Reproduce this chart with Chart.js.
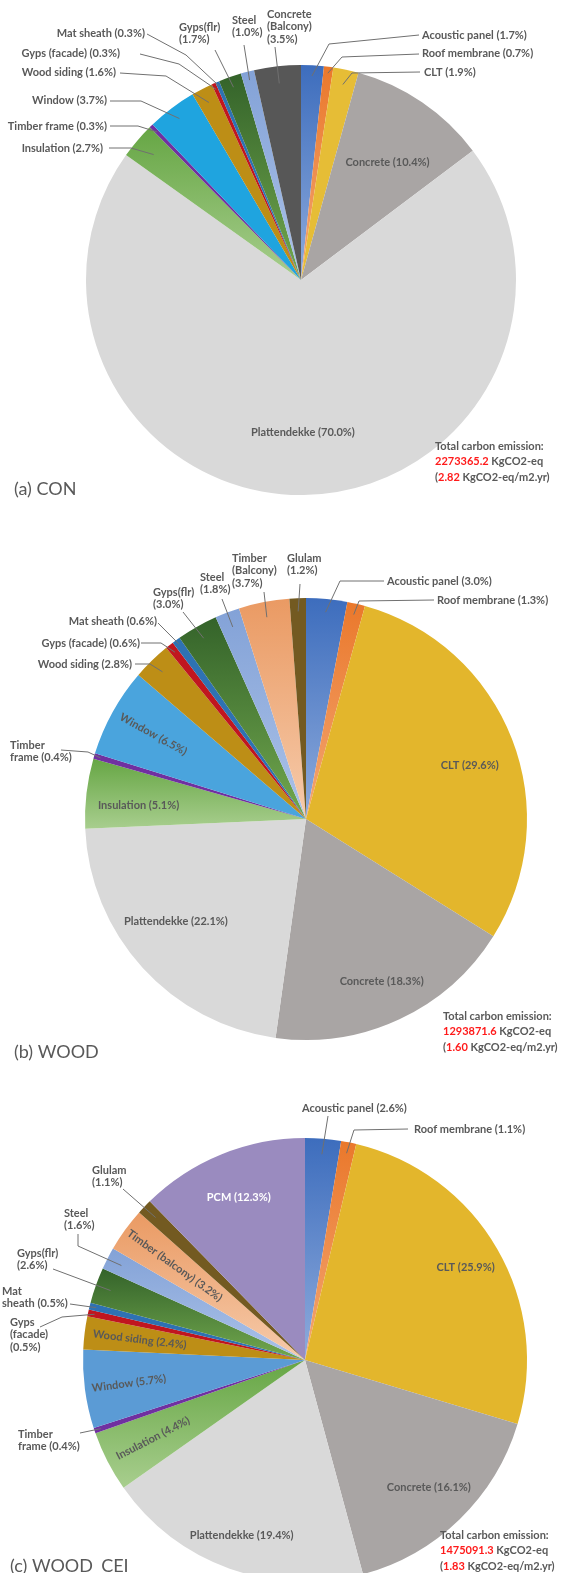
<!DOCTYPE html>
<html>
<head>
<meta charset="utf-8">
<script src="https://cdn.jsdelivr.net/npm/chart.js@4.4.1/dist/chart.umd.min.js"></script>
<style>
  html, body { margin: 0; padding: 0; background: #fff; width: 561px; height: 1573px; overflow: hidden; position: relative; }
  canvas { position: absolute; left: 0; }
</style>
</head>
<body>
<canvas id="pieCon" width="561" height="530" style="top:0px"></canvas>
<canvas id="pieWood" width="561" height="540" style="top:530px"></canvas>
<canvas id="pieCei" width="561" height="530" style="top:1070px"></canvas>
<script>
// Embodied carbon share per material (%), clockwise from 12 o'clock
const conMaterials = ['Acoustic panel', 'Roof membrane', 'CLT', 'Concrete', 'Plattendekke', 'Insulation',
  'Timber frame', 'Window', 'Wood siding', 'Gyps (facade)', 'Mat sheath', 'Gyps(flr)', 'Steel', 'Concrete (Balcony)'];
const conShares = [1.7, 0.7, 1.9, 10.4, 70.0, 2.7, 0.3, 3.7, 1.6, 0.3, 0.3, 1.7, 1.0, 3.5];

const woodMaterials = ['Acoustic panel', 'Roof membrane', 'CLT', 'Concrete', 'Plattendekke', 'Insulation',
  'Timber frame', 'Window', 'Wood siding', 'Gyps (facade)', 'Mat sheath', 'Gyps(flr)', 'Steel', 'Timber (Balcony)', 'Glulam'];
const woodShares = [3.0, 1.3, 29.6, 18.3, 22.1, 5.1, 0.4, 6.5, 2.8, 0.6, 0.6, 3.0, 1.8, 3.7, 1.2];

const ceiMaterials = ['Acoustic panel', 'Roof membrane', 'CLT', 'Concrete', 'Plattendekke', 'Insulation',
  'Timber frame', 'Window', 'Wood siding', 'Gyps (facade)', 'Mat sheath', 'Gyps(flr)', 'Steel', 'Timber (balcony)', 'Glulam', 'PCM'];
const ceiShares = [2.6, 1.1, 25.9, 16.1, 19.4, 4.4, 0.4, 5.7, 2.4, 0.5, 0.5, 2.6, 1.6, 3.2, 1.1, 12.3];

// Whole-building totals
const panelTitles = ['(a) CON', '(b) WOOD', '(c) WOOD_CEI'];
const totalEmission = ['2273365.2', '1293871.6', '1475091.3'];        // KgCO2-eq
const emissionIntensity = ['2.82', '1.60', '1.83'];                  // KgCO2-eq/m2.yr

// ---- styling ----
const TEXT = '#595959';
const LEADER = '#707070';
const RED = '#ff1a1a';
const LABEL_FONT = 'bold 11px Lato, "Open Sans", sans-serif';
const TITLE_FONT = '18px Lato, "Open Sans", sans-serif';
const LINE_H = 12.8;

// [top colour, bottom colour] of each slice's vertical shading
const materialColors = {
  'Acoustic panel': ['#3d6dbd', '#8eabdc'],
  'Roof membrane': ['#ea782b', '#f3a673'],
  'CLT': ['#e3b62c'],
  'Concrete': ['#a9a5a4'],
  'Plattendekke': ['#d9d9d9'],
  'Insulation': ['#66a644', '#a8ce8e'],
  'Timber frame': ['#7030a0'],
  'Window': ['#4aa4dd'],
  'Wood siding': ['#bd8e16'],
  'Gyps (facade)': ['#c0161f'],
  'Mat sheath': ['#2e72b3'],
  'Gyps(flr)': ['#34632a', '#72a84e'],
  'Steel': ['#83a2d7', '#abc2e8'],
  'Concrete (Balcony)': ['#575757'],
  'Timber (Balcony)': ['#ea9a63', '#f6cbab'],
  'Timber (balcony)': ['#ea9a63', '#f6cbab'],
  'Glulam': ['#735a21'],
  'PCM': ['#9a8bbf']
};

// Vertical gradient spanning each sector's own bounding box
function sliceFill(tops, bottoms) {
  return (ctx) => {
    const i = ctx.dataIndex;
    const top = tops[i], bot = bottoms[i];
    if (top === bot) return top;
    const chart = ctx.chart, area = chart.chartArea;
    const ctrl = chart.getDatasetMeta(ctx.datasetIndex).controller;
    const r = ctrl && ctrl.outerRadius;
    if (!area || !r) return top;
    const cy = (area.top + area.bottom) / 2;
    const data = ctx.dataset.data;
    const total = data.reduce((s, v) => s + v, 0);
    let before = 0;
    for (let k = 0; k < i; k++) before += data[k];
    const a0 = -Math.PI / 2 + 2 * Math.PI * before / total;
    const a1 = a0 + 2 * Math.PI * data[i] / total;
    let yMin = Math.min(cy, cy + r * Math.sin(a0), cy + r * Math.sin(a1));
    let yMax = Math.max(cy, cy + r * Math.sin(a0), cy + r * Math.sin(a1));
    const has = (a) => { for (let t = a; t <= a1 + 1e-9; t += 2 * Math.PI) if (t >= a0) return true; return false; };
    if (has(-Math.PI / 2) || has(3 * Math.PI / 2)) yMin = cy - r;
    if (has(Math.PI / 2)) yMax = cy + r;
    const g = chart.ctx.createLinearGradient(0, yMin, 0, yMax);
    g.addColorStop(0, top);
    g.addColorStop(1, bot);
    return g;
  };
}

// Slice labels, leader lines, totals and panel title
function makeLabelPlugin(spec) {
  return {
    id: 'sliceLabels',
    afterDatasetsDraw(chart) {
      const g = chart.ctx;
      const oy = spec.top;
      const meta = chart.getDatasetMeta(0);
      g.save();
      g.font = LABEL_FONT;
      g.textBaseline = 'middle';
      meta.data.forEach((arc, i) => {
        const L = spec.layout[i];
        const p = arc.getProps(['x', 'y', 'startAngle', 'endAngle', 'outerRadius'], true);
        const mid = (p.startAngle + p.endAngle) / 2 + (L.da || 0) * Math.PI / 180;
        const ax = p.x + Math.cos(mid) * p.outerRadius * L.f;
        const ay = p.y + Math.sin(mid) * p.outerRadius * L.f;
        const text = spec.names[i] + ' (' + spec.shares[i].toFixed(1) + '%)';
        if (L.inside) {
          g.save();
          g.translate(ax, ay);
          if (L.rotate) g.rotate(mid - Math.PI);
          g.textAlign = 'center';
          g.fillStyle = L.color || TEXT;
          g.fillText(text, 0, 0);
          g.restore();
          return;
        }
        g.beginPath();
        g.strokeStyle = LEADER;
        g.lineWidth = 1;
        L.path.forEach((pt, k) => k ? g.lineTo(pt[0], pt[1] - oy) : g.moveTo(pt[0], pt[1] - oy));
        g.lineTo(ax, ay);
        g.stroke();
        const words = text.split(' ');
        const wrap = L.wrap || [words.length];
        let w0 = 0;
        g.textAlign = L.align;
        g.fillStyle = TEXT;
        wrap.forEach((n, li) => {
          g.fillText(words.slice(w0, w0 + n).join(' '), L.x, L.y - oy + li * LINE_H);
          w0 += n;
        });
      });

      // totals block
      const t = spec.totals;
      g.textAlign = 'left';
      const seg = (parts, x, y) => {
        parts.forEach(([s, c]) => { g.fillStyle = c; g.fillText(s, x, y); x += g.measureText(s).width; });
      };
      seg([['Total carbon emission:', TEXT]], t.x, t.y - oy);
      seg([[totalEmission[spec.idx], RED], [' KgCO2-eq', TEXT]], t.x, t.y - oy + 15.5);
      seg([['(', TEXT], [emissionIntensity[spec.idx], RED], [' KgCO2-eq/m2.yr)', TEXT]], t.x, t.y - oy + 31);

      // panel title
      g.font = TITLE_FONT;
      g.fillStyle = TEXT;
      g.textBaseline = 'alphabetic';
      g.fillText(panelTitles[spec.idx], spec.title.x, spec.title.y - oy);
      g.restore();
    }
  };
}

function buildPie(canvasId, names, shares, spec, colorOverride) {
  const pick = (n) => (colorOverride && colorOverride[n]) || materialColors[n];
  const tops = names.map(n => pick(n)[0]);
  const bottoms = names.map(n => pick(n)[1] || pick(n)[0]);
  const canvas = document.getElementById(canvasId);
  const W = canvas.width, H = canvas.height;
  const cyLocal = spec.cy - spec.top;
  spec.names = names;
  spec.shares = shares;
  return new Chart(canvas, {
    type: 'pie',
    data: {
      labels: names,
      datasets: [{
        data: shares,
        backgroundColor: sliceFill(tops, bottoms),
        borderWidth: 0,
        hoverOffset: 0,
        offset: 0
      }]
    },
    options: {
      responsive: false,
      animation: false,
      events: [],
      devicePixelRatio: 1,
      layout: {
        padding: {
          left: spec.cx - spec.r,
          right: W - (spec.cx + spec.r),
          top: cyLocal - spec.r,
          bottom: H - (cyLocal + spec.r)
        }
      },
      plugins: { legend: { display: false }, tooltip: { enabled: false } }
    },
    plugins: [makeLabelPlugin(spec)]
  });
}

// ---- label placement (page coordinates) ----
const conLayout = [
  { x: 422, y: 35, align: 'left', path: [[419, 35], [329, 44]], f: 0.95 },
  { x: 422, y: 53, align: 'left', path: [[419, 54], [342, 57]], f: 0.97 },
  { x: 424, y: 72, align: 'left', path: [[420, 72], [352, 73]], f: 0.93 },
  { inside: true, f: 0.68, da: 2 },
  { inside: true, f: 0.71 },
  { x: 103, y: 148, align: 'right', path: [[109, 148], [131, 148]], f: 0.9 },
  { x: 107, y: 126, align: 'right', path: [[110, 126], [138, 126]], f: 0.96 },
  { x: 107, y: 100, align: 'right', path: [[110, 101], [141, 101]], f: 0.94 },
  { x: 116, y: 72, align: 'right', path: [[120, 73], [166, 76]], f: 0.93 },
  { x: 120, y: 53, align: 'right', path: [[140, 54], [179, 64]], f: 0.97 },
  { x: 145, y: 33, align: 'right', path: [[147, 34], [186, 55]], f: 0.98 },
  { x: 179, y: 27, align: 'left', wrap: [1, 1], path: [[215, 50]], f: 0.95 },
  { x: 232, y: 20, align: 'left', wrap: [1, 1], path: [[244, 45]], f: 0.96 },
  { x: 267, y: 14, align: 'left', wrap: [1, 1, 1], path: [[275, 47]], f: 0.92 }
];

const woodLayout = [
  { x: 387, y: 581, align: 'left', path: [[384, 581], [340, 581]], f: 0.94 },
  { x: 437, y: 600, align: 'left', path: [[434, 600], [359, 601]], f: 0.95 },
  { inside: true, f: 0.78, da: 3 },
  { inside: true, f: 0.81 },
  { inside: true, f: 0.75, da: 4 },
  { inside: true, f: 0.76, da: -2 },
  { x: 10, y: 745, align: 'left', wrap: [1, 2], path: [[61, 750], [88, 752]], f: 0.97 },
  { inside: true, f: 0.79, rotate: true },
  { x: 132, y: 664, align: 'right', path: [[135, 664], [150, 664]], f: 0.93 },
  { x: 140, y: 643, align: 'right', path: [[141, 643], [161, 643]], f: 0.96 },
  { x: 157, y: 621, align: 'right', path: [[158, 623]], f: 0.98 },
  { x: 153, y: 592, align: 'left', wrap: [1, 1], path: [[183, 612]], f: 0.94 },
  { x: 200, y: 577, align: 'left', wrap: [1, 1], path: [[222, 599]], f: 0.93 },
  { x: 232, y: 558, align: 'left', wrap: [1, 1, 1], path: [[264, 592]], f: 0.93 },
  { x: 287, y: 558, align: 'left', wrap: [1, 1], path: [[300, 584]], f: 0.94 }
];

const ceiLayout = [
  { x: 302, y: 1108, align: 'left', path: [[328, 1116]], f: 0.93 },
  { x: 414, y: 1129, align: 'left', path: [[408, 1129], [354, 1130]], f: 0.95 },
  { inside: true, f: 0.835 },
  { inside: true, f: 0.8 },
  { inside: true, f: 0.84 },
  { inside: true, f: 0.77, rotate: true },
  { x: 18, y: 1434, align: 'left', wrap: [1, 2], path: [[80, 1433]], f: 0.97 },
  { inside: true, f: 0.8, rotate: true },
  { inside: true, f: 0.75, rotate: true },
  { x: 10, y: 1322, align: 'left', wrap: [1, 1, 1], path: [[40, 1327], [62, 1317]], f: 0.97 },
  { x: 2, y: 1291, align: 'left', wrap: [1, 2], path: [[70, 1304]], f: 0.97 },
  { x: 17, y: 1253, align: 'left', wrap: [1, 1], path: [[53, 1269]], f: 0.93 },
  { x: 64, y: 1213, align: 'left', wrap: [1, 1], path: [[78, 1234], [78, 1246]], f: 0.93 },
  { inside: true, f: 0.725, rotate: true },
  { x: 92, y: 1170, align: 'left', wrap: [1, 1], path: [[123, 1189]], f: 0.93 },
  { inside: true, f: 0.79, color: '#ffffff' }
];

buildPie('pieCon', conMaterials, conShares, {
  idx: 0, top: 0, cx: 301, cy: 280, r: 215, layout: conLayout,
  totals: { x: 435, y: 446 }, title: { x: 14, y: 495 }
}, { 'Window': ['#1fa4df'], 'CLT': ['#e6bd36'] });

buildPie('pieWood', woodMaterials, woodShares, {
  idx: 1, top: 530, cx: 306, cy: 819, r: 221, layout: woodLayout,
  totals: { x: 443, y: 1016 }, title: { x: 14, y: 1058 }
}, null);

buildPie('pieCei', ceiMaterials, ceiShares, {
  idx: 2, top: 1070, cx: 305, cy: 1360, r: 222, layout: ceiLayout,
  totals: { x: 440, y: 1535 }, title: { x: 10, y: 1572 }
}, { 'Window': ['#5b9bd5'] });
</script>
</body>
</html>
